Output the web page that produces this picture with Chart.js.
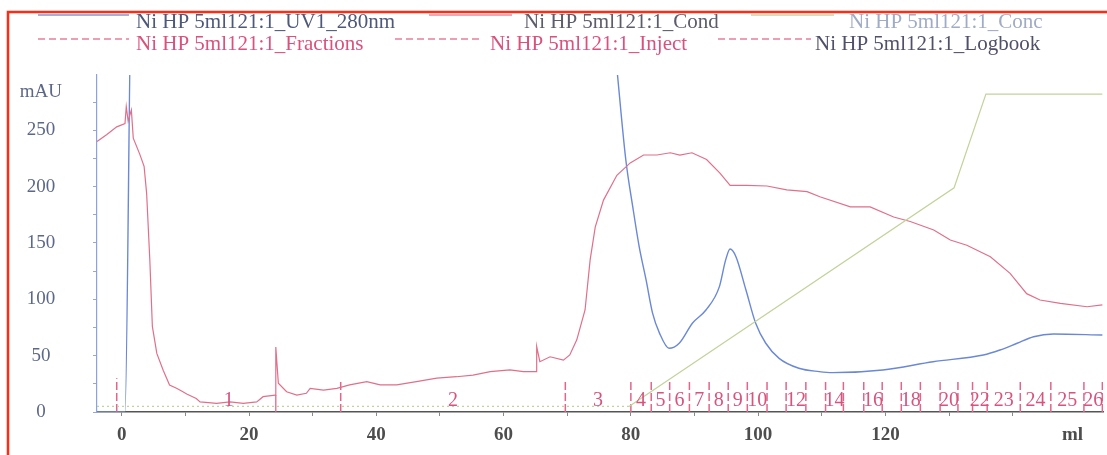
<!DOCTYPE html>
<html>
<head>
<meta charset="utf-8">
<script src="https://cdn.jsdelivr.net/npm/chart.js@4.4.1/dist/chart.umd.min.js"></script>
<style>
  html, body { margin: 0; padding: 0; background: #fff; }
  #wrap { width: 1107px; height: 455px; position: relative; }
</style>
</head>
<body>
<div id="wrap"><canvas id="chroma"></canvas></div>
<script>
// run names (legend)
const runNames = ["Ni HP 5ml121:1_UV1_280nm", "Ni HP 5ml121:1_Cond", "Ni HP 5ml121:1_Conc",
                  "Ni HP 5ml121:1_Fractions", "Ni HP 5ml121:1_Inject", "Ni HP 5ml121:1_Logbook"];

// UV 280 nm (mAU), off scale above ~300
const uvMl  = [-3.9, 0.5, 1.6, 76.2, 77.9, 79.2, 80.3, 81.3, 82.4, 83.4, 84.5, 86.0, 87.6, 89.7, 91.8, 93.9,
               94.9, 95.6, 96.5, 98.1, 99.6, 101.2, 103.3, 106.4, 109.6, 111.7, 119.6, 127.5, 135.4, 138.0,
               140.7, 143.3, 146.4, 154.1];
const uvMau = [0, 0, 400, 400, 299, 224, 182, 147, 117, 88, 70, 56.5, 61, 79, 90.5, 111,
               135, 144.6, 138, 108, 79, 61, 47.6, 38.8, 35.8, 34.9, 37.3, 44.6, 50.6, 55,
               61, 66.8, 69.2, 68.3];

// conductivity (drawn on the mAU scale)
const condMl  = [-3.9, -2.4, -0.8, 0.5, 0.7, 1.0, 1.5, 1.8, 2.8, 3.5, 3.9, 4.4, 4.8, 5.5, 6.5, 7.5, 8.6, 9.6, 10.2,
                 11.7, 12.3, 14.9, 17.0, 19.1, 21.2, 22.2, 24.1, 24.2, 24.6, 25.9, 27.5, 29.0, 29.6, 31.7, 33.8,
                 35.8, 38.5, 40.6, 43.2, 46.3, 49.5, 52.6, 55.2, 57.9, 61.0, 63.1, 65.1, 65.2, 65.7, 67.3, 69.4,
                 70.4, 71.5, 72.8, 73.6, 74.4, 75.7, 77.8, 79.9, 82.0, 84.1, 86.2, 87.7, 89.6, 91.9, 94.0, 95.6,
                 98.2, 101.4, 104.5, 107.7, 109.7, 114.5, 117.6, 121.3, 123.9, 127.6, 130.2, 132.8, 136.5, 139.6,
                 142.2, 144.3, 147.5, 151.7, 154.1];
const condMau = [240, 246, 253, 256, 271, 258, 268, 243, 229, 218, 194, 135, 76, 52, 37, 24, 21, 18, 16,
                 12, 9, 7.7, 9, 7.7, 9, 13.6, 15, 57.7, 25.5, 18, 15, 16.6, 21, 19.5, 21,
                 24, 27, 24, 24, 27, 30, 31.3, 32.8, 35.8, 37.3, 35.8, 35.8, 58, 44.6, 49, 46,
                 50.6, 64, 90.5, 135, 164, 188, 210, 221, 228, 228, 230, 228, 230, 224, 212, 201,
                 201, 200.5, 197, 195.5, 191, 182, 182, 173, 169, 161.5, 152.6, 148, 137.8, 123,
                 105, 99.4, 96.4, 93.4, 95];

// concentration B (%)
const concMl  = [-3.9, 79.7, 130.8, 135.8, 154.1];
const concPct = [0, 0, 70, 100, 100];

// fraction boundaries (ml) and the numbers printed between them
const fracMarks = [-0.8, 34.4, 69.7, 80.0, 83.2, 86.1, 89.2, 92.3, 95.3, 98.3, 101.4, 104.4, 107.5, 110.6,
                   113.4, 116.6, 119.5, 122.5, 125.5, 128.6, 131.4, 133.7, 136.0, 141.2, 146.0, 151.2, 154.1];
const fracNames = ["1", "2", "3", "4", "5", "6", "7", "8", "9", "10", "", "12", "", "14", "", "16", "",
                   "18", "", "20", "", "22", "23", "24", "25", "26"];
const injectMl = [-0.8];
const logbookMl = [24.2];

// axis ticks
const xTickVals = [0, 10, 20, 30, 40, 50, 60, 70, 80, 90, 100, 110, 120, 130, 140];
const xUnitPos = 149.4;
const yTickVals = [0, 25, 50, 75, 100, 125, 150, 175, 200, 225, 250, 275];
const yUnitPos = 284;

const SERIF = "'Liberation Serif', 'DejaVu Serif', serif";

function pts(xs, ys) { return xs.map((x, i) => ({ x: x, y: ys[i] })); }
function marks(xs, top) {
  const out = [];
  xs.forEach(x => { out.push({ x: x, y: 0 }, { x: x, y: top }, { x: x, y: null }); });
  return out;
}

const legendPlugin = {
  id: 'unicornLegend',
  afterDraw(chart) {
    const c = chart.ctx;
    const items = [
      { x0: 38,  x1: 129, tx: 136, y: 15, ty: 27.5, line: '#7e97d8', dash: [], text: '#4e5878' },
      { x0: 429, x1: 512, tx: 524, y: 15, ty: 27.5, line: '#e98a9e', dash: [], text: '#5c5c6a' },
      { x0: 751, x1: 834, tx: 849, y: 15, ty: 27.5, line: '#c6d5a6', dash: [], text: '#a0abc6' },
      { x0: 38,  x1: 129, tx: 136, y: 39, ty: 49.5, line: '#e77f9a', dash: [7, 4], text: '#d9517c' },
      { x0: 395, x1: 481, tx: 490, y: 39, ty: 49.5, line: '#e77f9a', dash: [7, 4], text: '#d9517c' },
      { x0: 718, x1: 811, tx: 815, y: 39, ty: 49.5, line: '#e77f9a', dash: [7, 4], text: '#50506a' }
    ];
    c.save();
    c.font = '21px ' + SERIF;
    c.textBaseline = 'alphabetic';
    items.forEach((it, i) => {
      c.strokeStyle = it.line;
      c.lineWidth = 1.3;
      c.setLineDash(it.dash);
      c.beginPath();
      c.moveTo(it.x0, it.y);
      c.lineTo(it.x1, it.y);
      c.stroke();
      c.fillStyle = it.text;
      c.fillText(runNames[i], it.tx, it.ty);
    });
    c.setLineDash([]);
    // red frame of the scanned page
    c.strokeStyle = '#ff2b12';
    c.lineWidth = 2.5;
    c.strokeRect(8, 12, 1300, 600);
    c.restore();
  }
};

const fracLabelPlugin = {
  id: 'fracLabels',
  afterDatasetsDraw(chart) {
    const c = chart.ctx, xs = chart.scales.x, ys = chart.scales.y;
    c.save();
    c.font = '20px ' + SERIF;
    c.fillStyle = '#d6547d';
    c.textAlign = 'center';
    c.textBaseline = 'middle';
    fracNames.forEach((n, k) => {
      if (!n) return;
      const mid = (fracMarks[k] + fracMarks[k + 1]) / 2;
      c.fillText(n, xs.getPixelForValue(mid), ys.getPixelForValue(10));
    });
    c.restore();
  }
};

new Chart(document.getElementById('chroma'), {
  type: 'line',
  data: {
    datasets: [
      { label: runNames[2], data: pts(concMl, concPct), yAxisID: 'yConc', borderColor: '#c2d39a',
        borderWidth: 1.2, pointRadius: 0, tension: 0,
        segment: { borderDash: ctx => ctx.p0.parsed.x < 79 ? [2, 3] : undefined } },
      { label: runNames[1], data: pts(condMl, condMau), borderColor: '#e0708a', borderWidth: 1.2,
        pointRadius: 0, tension: 0 },
      { label: runNames[0], data: pts(uvMl, uvMau), borderColor: '#6a88d6', borderWidth: 1.4,
        pointRadius: 0, cubicInterpolationMode: 'monotone' },
      { label: runNames[3], data: marks(fracMarks.slice(1), 29), borderColor: '#e2668a', borderWidth: 1.5,
        borderDash: [8, 3], pointRadius: 0, spanGaps: false },
      { label: runNames[4], data: marks(injectMl, 30), borderColor: '#e2668a', borderWidth: 1.5,
        borderDash: [8, 3], pointRadius: 0, spanGaps: false },
      { label: runNames[5], data: marks(logbookMl, 15), borderColor: '#e2668a', borderWidth: 1.3,
        pointRadius: 0, spanGaps: false }
    ]
  },
  options: {
    responsive: true,
    maintainAspectRatio: false,
    animation: false,
    devicePixelRatio: 1,
    layout: { padding: { top: 75, right: 4, left: 0, bottom: 0 } },
    plugins: { legend: { display: false }, tooltip: { enabled: false } },
    scales: {
      x: {
        type: 'linear', min: -3.9, max: 154.2,
        afterBuildTicks: s => { s.ticks = xTickVals.concat([xUnitPos]).map(v => ({ value: v })); },
        afterFit: s => { s.height = 43; },
        border: { color: '#555', width: 1.6 },
        grid: { drawOnChartArea: false, tickLength: 4,
                tickColor: c => (c.tick && c.tick.value === xUnitPos) ? 'rgba(0,0,0,0)' : '#8a8a8a' },
        ticks: {
          autoSkip: false, maxRotation: 0, padding: 8,
          color: '#4d4d4d', font: { family: SERIF, size: 19, weight: 'bold' },
          callback: v => v === xUnitPos ? 'ml' : (v % 20 === 0 && v <= 120 ? String(v) : '')
        }
      },
      y: {
        min: 0, max: 299,
        afterBuildTicks: s => { s.ticks = yTickVals.concat([yUnitPos]).map(v => ({ value: v })); },
        afterFit: s => { s.width = 97; },
        border: { color: '#8aa2de', width: 1.2 },
        grid: { drawOnChartArea: false, tickLength: 4,
                tickColor: c => (c.tick && c.tick.value === yUnitPos) ? 'rgba(0,0,0,0)' : '#9aa8cc' },
        ticks: {
          autoSkip: false, padding: 31, crossAlign: 'center',
          color: '#5c6888', font: { family: SERIF, size: 19 },
          callback: v => v === yUnitPos ? 'mAU' : (v % 50 === 0 ? String(v) : '')
        }
      },
      yConc: { display: false, min: -1.8, max: 106.1 }
    }
  },
  plugins: [legendPlugin, fracLabelPlugin]
});
</script>
</body>
</html>
